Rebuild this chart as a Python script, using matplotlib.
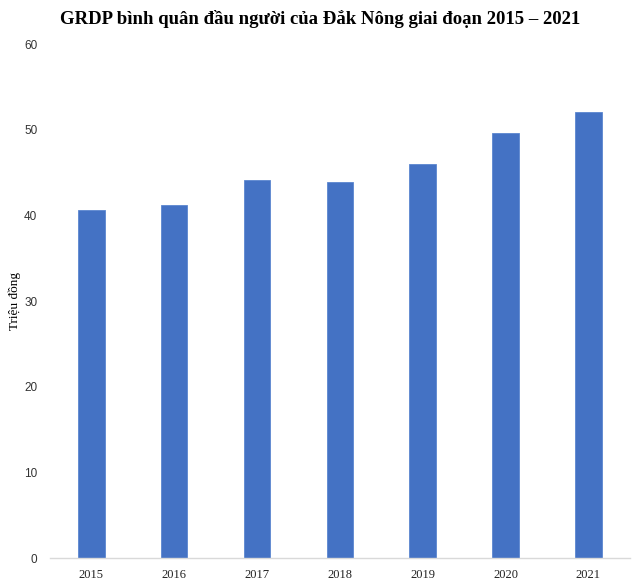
import matplotlib
matplotlib.use("Agg")
import matplotlib.pyplot as plt

years = ["2015", "2016", "2017", "2018", "2019", "2020", "2021"]
grdp = [40.6, 41.2, 44.1, 43.9, 46.0, 49.6, 52.1]

fig = plt.figure(figsize=(6.4, 5.84), dpi=100)
ax = fig.add_axes([0.078, 0.0445, 0.906, 0.880])

ax.bar(years, grdp, width=0.32, color="#4472C4", edgecolor="#5b86d0", linewidth=0.6)
ax.set_ylim(0, 60)
ax.set_xlim(-0.5, len(years) - 0.5)
ax.set_yticks(range(0, 61, 10))

for s in ["top", "right", "left"]:
    ax.spines[s].set_visible(False)
ax.spines["bottom"].set_color("#d9d9d9")
ax.spines["bottom"].set_linewidth(1.0)
ax.tick_params(axis="both", length=0)
ax.tick_params(axis="y", pad=9)
ax.tick_params(axis="x", pad=8)

for lab in ax.get_yticklabels():
    lab.set_fontfamily("Liberation Sans")
    lab.set_fontsize(8.5)
    lab.set_color("#333333")
for lab in ax.get_xticklabels():
    lab.set_fontfamily("Liberation Serif")
    lab.set_fontsize(9)
    lab.set_color("#222222")

ax.set_ylabel("Triệu đồng", fontfamily="Liberation Serif", fontsize=9.5, labelpad=2)
fig.text(0.5, 0.968, "GRDP bình quân đầu người của Đắk Nông giai đoạn 2015 – 2021",
         ha="center", va="center", fontfamily="Liberation Serif", fontweight="bold", fontsize=13.5)

fig.savefig("out.png", dpi=100)
